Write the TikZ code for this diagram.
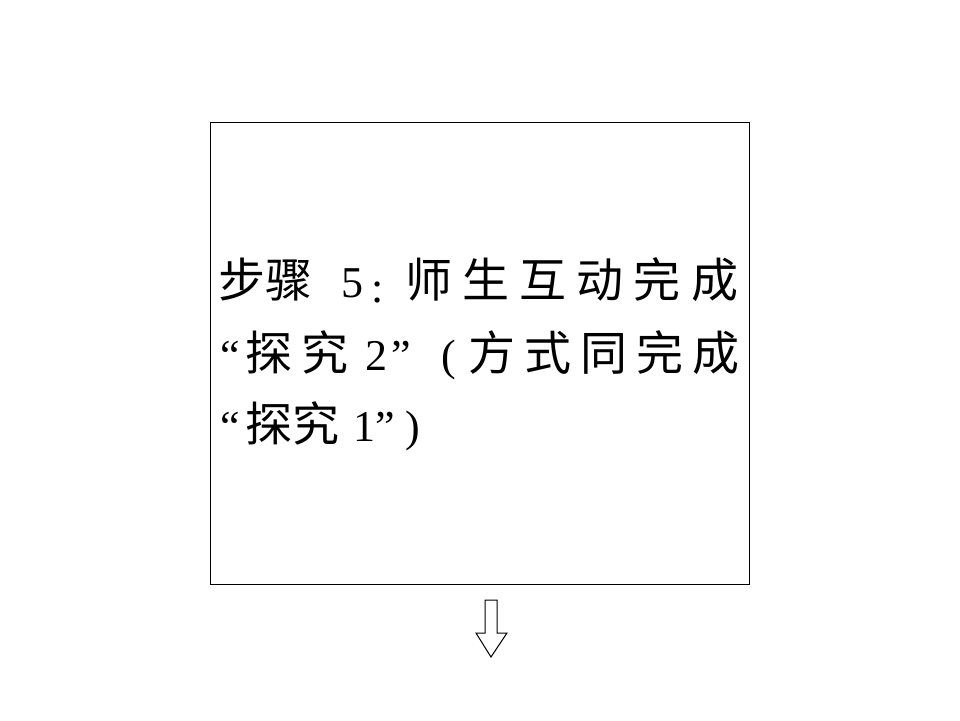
\documentclass[tikz,border=0pt]{standalone}
\usepackage{fontspec}
\setmainfont{Liberation Serif}
\newfontfamily\cjk{Noto Sans CJK SC}
\usetikzlibrary{positioning}

\newcommand{\boxleft}{210}
\newcommand{\boxright}{749}
\newcommand{\boxtop}{122}
\newcommand{\boxbottom}{584}
\newcommand{\textx}{218}
\newcommand{\zh}[1]{{\cjk\fontsize{23.5pt}{28pt}\selectfont #1}}
\newcommand{\ga}{\hspace{5.1pt}}
\newcommand{\gb}{\hspace{4.5pt}}

\tikzset{
  stepline/.style={anchor=base west, inner sep=0pt, font=\fontsize{22pt}{26pt}\selectfont}
}

\begin{document}
\begin{tikzpicture}[x=0.5pt, y=-0.5pt]
  \useasboundingbox (0,0) rectangle (960,720);

  \draw [line width=0.5pt] (\boxleft, \boxtop) rectangle (\boxright, \boxbottom);

  % three lines of the step text
  \node [stepline] (line1) at (\textx, 297) {\zh{步骤}\hspace{14.75pt}5\hspace{4pt}\raisebox{-2.5pt}{:}\hspace{10.5pt}\zh{师\ga 生\ga 互\ga 动\ga 完\ga 成}};
  \node [stepline] (line2) at (\textx, 370) {\hspace{1pt}“\hspace{2.75pt}\zh{探\gb 究}\hspace{8.5pt}2\hspace{2pt}”\hspace{15.25pt}(\hspace{6.15pt}\zh{方\gb 式\gb 同\gb 完\gb 成}};
  \node [stepline] (line3) at (\textx, 441) {\hspace{1pt}“\hspace{2.75pt}\zh{探究}\hspace{7pt}1”\hspace{5.25pt})};

  % down arrow
  \coordinate (A) at (485, 600);
  \coordinate (B) at (497, 600);
  \coordinate (C) at (497, 633);
  \coordinate (D) at (507, 633);
  \coordinate (E) at (491, 657);
  \coordinate (F) at (476, 633);
  \coordinate (G) at (485, 633);

  \draw [line width=0.5pt] (A) -- (B) -- (C) -- (D) -- (E) -- (F) -- (G) -- cycle;
\end{tikzpicture}
\end{document}
